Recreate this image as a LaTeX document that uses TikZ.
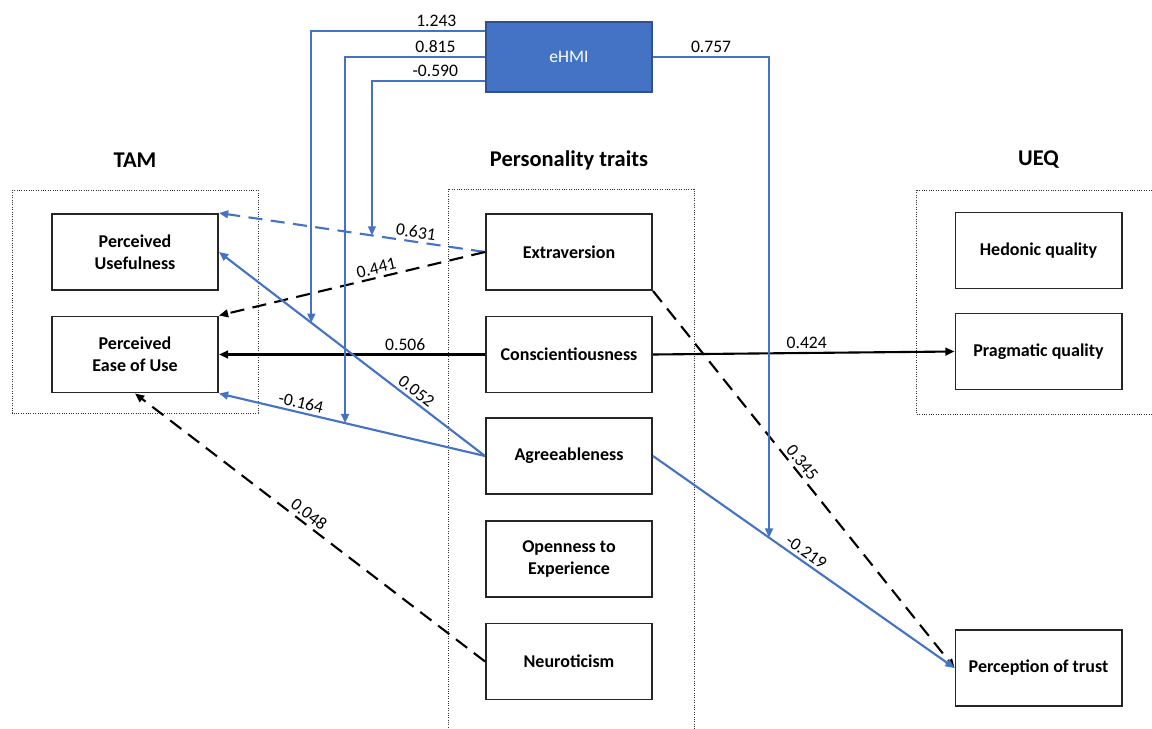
\documentclass[tikz,border=0pt]{standalone}
\usepackage{fontspec}
\setmainfont{Carlito}
\usetikzlibrary{arrows.meta,calc}
\definecolor{ehmiblue}{HTML}{4472C4}
\definecolor{ehmiedge}{HTML}{2F528F}

\begin{document}
\begin{tikzpicture}[x=0.025cm,y=-0.025cm]
            \tikzstyle{every node}+=[font=\fontsize{12.5}{15}\selectfont]
            \tikzstyle{box}=[draw=black!85,line width=1.4pt,minimum width=4.15cm,minimum height=1.9cm,align=center,font=\fontsize{12.8}{15.5}\selectfont\bfseries]
            \tikzstyle{title}=[font=\fontsize{16}{19}\selectfont\bfseries]
            \tikzstyle{grp}=[black!80,line width=0.7pt,densely dotted]
            \tikzstyle{lnk}=[line width=1.5pt,-{Triangle[length=6.5pt,width=5.5pt]}]
            \tikzstyle{dsh}=[dash pattern=on 10pt off 6pt]
            \tikzstyle{lbl}=[text=black,inner sep=2pt]
            \useasboundingbox (0,0) rectangle (1152,729);
            % groups
            \draw [grp] (12,190) rectangle (258,413);
            \draw [grp] (448,189) rectangle (694,745);
            \draw [grp] (916,190) rectangle (1165,414);
            \draw (135,160) node [title] {TAM};
            \draw (569,160) node [title] {Personality traits};
            \draw (1038.5,160) node [title] {UEQ};
            % boxes
            \node [box] (pu) at (135,252) {Perceived\\Usefulness};
            \node [box] (peou) at (135,354.5) {Perceived\\Ease of Use};
            \node [box] (extra) at (569,252) {Extraversion};
            \node [box] (consc) at (569,354.5) {Conscientiousness};
            \node [box] (agree) at (569,456) {Agreeableness};
            \node [box] (open) at (569,559) {Openness to\\Experience};
            \node [box] (neuro) at (569,661.5) {Neuroticism};
            \node [box] (hedo) at (1038.5,250.5) {Hedonic quality};
            \node [box] (prag) at (1038.5,351.5) {Pragmatic quality};
            \node [box] (trust) at (1038.5,668) {Perception of trust};
            \node [box,fill=ehmiblue,draw=ehmiedge,text=white,font=\fontsize{12.5}{15}\selectfont,minimum height=1.75cm] (ehmi) at (569,57) {eHMI};
            % paths
            \draw [lnk,ehmiblue,dsh] (extra.west) -- (pu.north east) node [lbl,pos=0.265,sloped,above] {0.631};
            \draw [lnk,dsh] (extra.west) -- (peou.north east) node [lbl,pos=0.4,sloped,above] {0.441};
            \draw [lnk] (consc.west) -- (peou.east) node [lbl,pos=0.3,above] {0.506};
            \draw [lnk,ehmiblue] (agree.west) -- (pu.east) node [lbl,pos=0.28,sloped,above] {0.052};
            \draw [lnk,ehmiblue] (agree.west) -- (peou.south east) node [lbl,pos=0.7,sloped,above] {-0.164};
            \draw [lnk,dsh] (neuro.west) -- (peou.south) node [lbl,pos=0.52,sloped,above] {0.048};
            \draw [lnk] (consc.east) -- (prag.west) node [lbl,pos=0.51,above] {0.424};
            \draw [lnk,dsh] (extra.south east) -- (trust.west) node [lbl,pos=0.47,sloped,above] {0.345};
            \draw [lnk,ehmiblue] (agree.east) -- (trust.west) node [lbl,pos=0.49,sloped,above] {-0.219};
            % eHMI moderation
            \coordinate (m1) at ($(agree.west)!0.653!(pu.east)$);
            \coordinate (m2) at ($(agree.west)!0.526!(peou.south east)$);
            \coordinate (m3) at ($(extra.west)!0.425!(pu.north east)$);
            \coordinate (m4) at ($(agree.east)!0.385!(trust.west)$);
            \draw [lnk,ehmiblue] ($(ehmi.west)+(0,-26)$) -| (m1) node [lbl,pos=0.14,above] {1.243};
            \draw [lnk,ehmiblue] (ehmi.west) -| (m2) node [lbl,pos=0.177,above] {0.815};
            \draw [lnk,ehmiblue] ($(ehmi.west)+(0,24)$) -| (m3) node [lbl,pos=0.22,above] {-0.590};
            \draw [lnk,ehmiblue] (ehmi.east) -| (m4) node [lbl,pos=0.25,above] {0.757};
        \end{tikzpicture}
\end{document}
